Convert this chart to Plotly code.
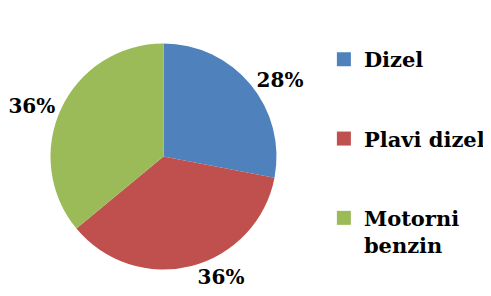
import plotly.graph_objects as go

labels = ["Dizel", "Plavi dizel", "Motorni<br>benzin"]
values = [28, 36, 36]
colors = ["#4F81BD", "#C0504D", "#9BBB59"]

# page body has an 8px margin, so the figure is 8px smaller than the window
W, H = 483, 288
cx, cy, r = 155.5, 148.5, 113
FONT = "DejaVu Serif"

fig = go.Figure()
fig.add_trace(go.Pie(
    labels=labels, values=values, sort=False, direction="clockwise", rotation=0,
    marker=dict(colors=colors, line=dict(width=0)),
    textposition="outside", texttemplate="%{percent:.0%}",
    textfont=dict(family=FONT, size=20, color="black", weight="bold"),
    showlegend=False,
    domain=dict(x=[(cx - r) / W, (cx + r) / W], y=[(H - cy - r) / H, (H - cy + r) / H]),
    automargin=False,
))
for lab, col in zip(labels, colors):
    fig.add_trace(go.Scatter(
        x=[None], y=[None], mode="markers", name=lab, legendgroup=lab,
        marker=dict(symbol="square", size=14, color=col),
    ))

fig.update_layout(
    width=W, height=H, margin=dict(l=0, r=0, t=0, b=0),
    paper_bgcolor="white", plot_bgcolor="white",
    xaxis=dict(visible=False), yaxis=dict(visible=False),
    legend=dict(x=0.654, y=0.892, xanchor="left", yanchor="top",
                font=dict(family=FONT, size=21, color="black", weight="bold"),
                tracegroupgap=49, valign="top", itemwidth=30),
)
fig.write_html("out.html")
